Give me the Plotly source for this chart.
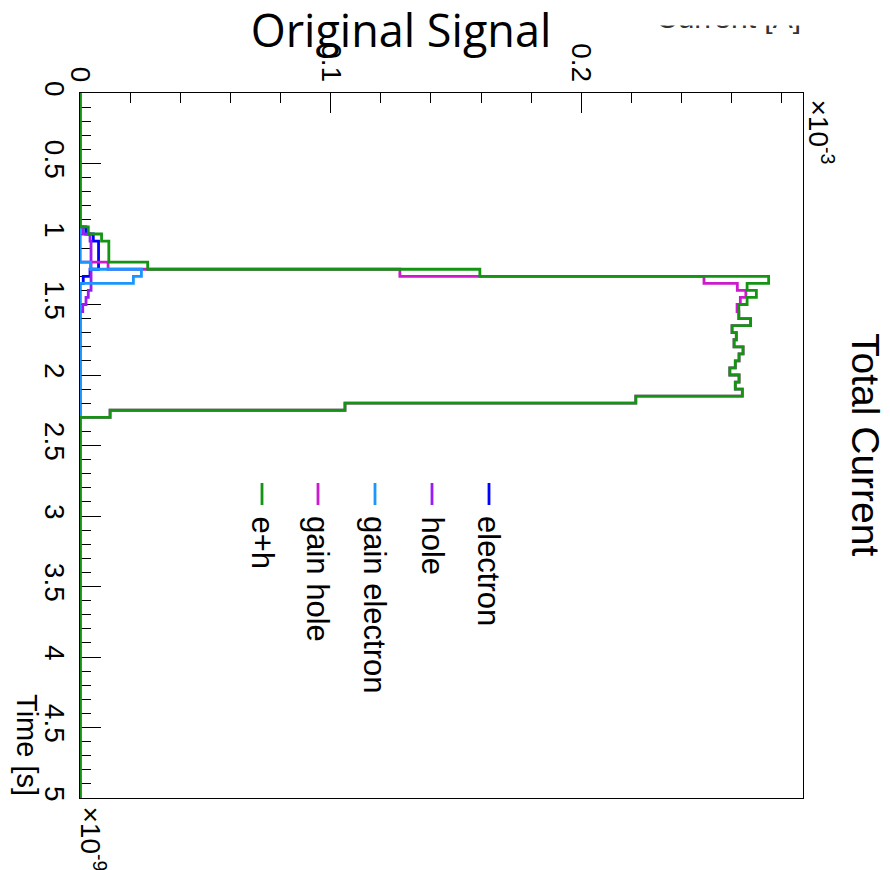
import numpy as np
import plotly.graph_objects as go

# Time binning of the signal histograms (ns, shown with a 1e-9 multiplier)
T_MIN, T_MAX, BIN_W = 0.0, 5.0, 0.05
FIRST_BIN_T = 0.95   # first bin with non-zero content

# Current per bin (units of 1e-3 A), bins from FIRST_BIN_T onward; all other bins are empty
electron = [0.0023, 0.0053, 0.0074, 0.0074, 0.0074, 0.0074, 0.0040, 0.0013]
hole = [0.0011, 0.0040, 0.0044, 0.0044, 0.0044, 0.0044, 0.0044, 0.0044, 0.0044,
        0.0033, 0.0024, 0.0011]
gain_electron = [0.0, 0.0, 0.0, 0.0, 0.0, 0.0042, 0.0245, 0.0213]
gain_hole = [0.0, 0.0, 0.0, 0.0, 0.0, 0.0112, 0.1276, 0.2489, 0.2622, 0.2656,
             0.2634, 0.2621, 0.2628, 0.2675, 0.2601, 0.2618, 0.2609, 0.2645,
             0.2629, 0.2614, 0.2592, 0.2629, 0.2614, 0.2642, 0.2217, 0.1057, 0.0120]
e_plus_h = [0.0033, 0.0086, 0.0115, 0.0115, 0.0115, 0.0270, 0.1595, 0.2747,
            0.2661, 0.2698, 0.2661, 0.2628, 0.2628, 0.2675, 0.2601, 0.2618,
            0.2609, 0.2645, 0.2629, 0.2614, 0.2592, 0.2629, 0.2614, 0.2642,
            0.2217, 0.1057, 0.0120]

# drawing order (later on top) and legend order
draw_order = [
    ("electron", electron, "#0000ff"),
    ("hole", hole, "#9a1cf5"),
    ("gain hole", gain_hole, "#cc1acc"),
    ("gain electron", gain_electron, "#1a96ff"),
    ("e+h", e_plus_h, "#139413"),
]
legend_entries = ["electron", "hole", "gain electron", "gain hole", "e+h"]

n_bins = int(round((T_MAX - T_MIN) / BIN_W))
edges = T_MIN + BIN_W * np.arange(n_bins + 1)
first = int(round((FIRST_BIN_T - T_MIN) / BIN_W))


def full_hist(vals):
    h = np.zeros(n_bins)
    h[first:first + len(vals)] = vals
    return h


fig = go.Figure()
colors = {}
for name, vals, color in draw_order:
    colors[name] = color
    h = full_hist(vals)
    xs = np.append(h, h[-1])          # current
    ys = edges                        # time (bin low edges + last upper edge)
    fig.add_trace(go.Scatter(
        x=xs, y=ys, mode="lines", name=name,
        line=dict(color=color, width=2.8, shape="vh"),
        hoverinfo="skip",
    ))

# pixel geometry of the frame
PL, PR, PT, PB = 80, 803, 93, 798
W, H = 890, 870


def fx(X):
    return (X - PL) / (PR - PL)


def fy(Y):
    return (PB - Y) / (PB - PT)


FONT = "Liberation Sans"

fig.update_layout(
    width=W, height=H,
    margin=dict(l=PL, r=W - PR, t=PT, b=H - PB, pad=0),
    plot_bgcolor="white", paper_bgcolor="white",
    showlegend=False,
    font=dict(family=FONT, color="black"),
    title=dict(text="Original Signal", font=dict(family="Open Sans", size=45, color="black"),
               xref="container", yref="container", x=401 / W, y=1 - 31 / H,
               xanchor="center", yanchor="middle"),
)

fig.update_xaxes(
    side="top", range=[0, 0.2884], tick0=0, dtick=0.1,
    ticks="inside", ticklen=20, tickwidth=1, tickcolor="black",
    tickangle=90, tickfont=dict(size=28, family=FONT),
    minor=dict(dtick=0.02, ticks="inside", ticklen=10, tickwidth=1, tickcolor="black", showgrid=False),
    showgrid=False, zeroline=False,
    showline=True, linecolor="black", linewidth=1, mirror=True,
)
fig.update_yaxes(
    range=[T_MAX, T_MIN], tick0=0, dtick=0.5,
    ticks="inside", ticklen=21, tickwidth=1, tickcolor="black",
    tickangle=90, tickfont=dict(size=28, family=FONT),
    minor=dict(dtick=0.1, ticks="inside", ticklen=11, tickwidth=1, tickcolor="black", showgrid=False),
    showgrid=False, zeroline=False,
    showline=True, linecolor="black", linewidth=1, mirror=True,
    layer="below traces",
)

ann = []
# axis titles and multipliers
ann.append(dict(text="Time [s]", textangle=90, font=dict(size=29, family=FONT),
                xref="paper", yref="paper", x=fx(27), y=fy(798),
                xanchor="center", yanchor="bottom", showarrow=False))
ann.append(dict(text="Total Current", textangle=90, font=dict(size=39, family=FONT),
                xref="paper", yref="paper", x=fx(866), y=fy(445),
                xanchor="center", yanchor="middle", showarrow=False))
ann.append(dict(text="×10<sup>-3</sup>", textangle=90, font=dict(size=28, family=FONT),
                xref="paper", yref="paper", x=fx(821), y=fy(98),
                xanchor="center", yanchor="top", showarrow=False))
ann.append(dict(text="×10<sup>-9</sup>", textangle=90, font=dict(size=28, family=FONT),
                xref="paper", yref="paper", x=fx(93), y=fy(804),
                xanchor="center", yanchor="top", showarrow=False))
# y-axis title, its upper part hidden behind the title pad
ann.append(dict(text="Current [A]", font=dict(size=30, family=FONT, color="#333333"),
                xref="paper", yref="paper", x=fx(803), y=fy(17),
                xanchor="right", yanchor="middle", showarrow=False))
ann.append(dict(text=".", font=dict(size=10, color="white"), bgcolor="white",
                width=190, height=24,
                xref="paper", yref="paper", x=fx(820), y=fy(0),
                xanchor="right", yanchor="top", showarrow=False, borderpad=0))

# legend: short vertical line with rotated label below it
legend_x = {"electron": 489, "hole": 432, "gain electron": 375, "gain hole": 318, "e+h": 262}
shapes = []
for name in legend_entries:
    X = legend_x[name]
    shapes.append(dict(type="line", xref="paper", yref="paper",
                       x0=fx(X), x1=fx(X), y0=fy(483), y1=fy(505),
                       line=dict(color=colors[name], width=2.8)))
    ann.append(dict(text=name, textangle=90, font=dict(size=31, family=FONT),
                    xref="paper", yref="paper", x=fx(X), y=fy(514),
                    xanchor="center", yanchor="top", showarrow=False))

fig.update_layout(annotations=ann, shapes=shapes)
fig.write_html("out.html")
